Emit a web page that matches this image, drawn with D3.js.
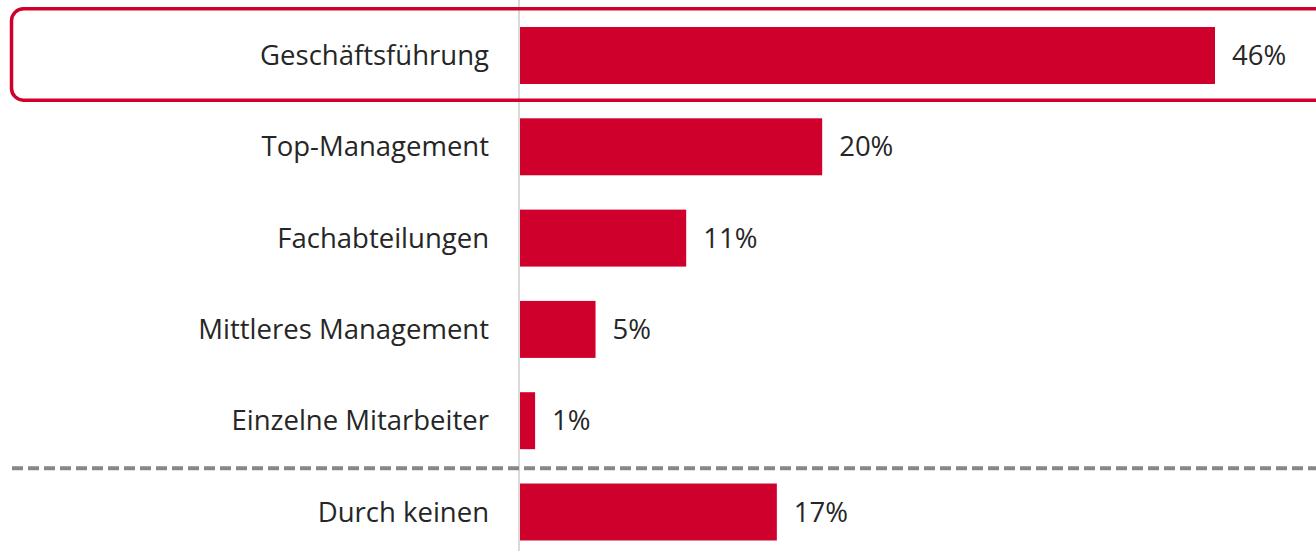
<!DOCTYPE html>
<html lang="de">
<head>
<meta charset="UTF-8">
<script src="https://d3js.org/d3.v7.min.js"></script>
<title>Geschaeftsfuehrung</title>
<style>
  body { margin: 0; background: #fff; }
  text { font-family: "Open Sans", "Lato", sans-serif; fill: #262626; }
</style>
</head>
<body>
<script>
  var w = 1316,
      h = 551;

  // Daten
  var categories = ["Geschäftsführung", "Top-Management", "Fachabteilungen", "Mittleres Management", "Einzelne Mitarbeiter", "Durch keinen"];
  var values = [46, 20, 11, 5, 1, 17];
  var valueLabels = ["46%", "20%", "11%", "5%", "1%", "17%"];

  var red = "#cf002c";

  var svg = d3.select("body").append("svg")
      .attr("width", w)
      .attr("height", h);

  var x = d3.scaleLinear().domain([0, 46]).range([520, 1215]);

  var y = d3.scaleBand()
      .domain(categories)
      .range([9.85, 557.65])
      .paddingInner(0.376)
      .paddingOuter(0.188);

  var step = y.step(),
      bw = y.bandwidth();

  // vertikale Achsenlinie
  svg.append("line")
      .attr("x1", 519).attr("x2", 519)
      .attr("y1", 0).attr("y2", h)
      .attr("stroke", "#d9d9d9")
      .attr("stroke-width", 2);

  // Balken
  svg.selectAll("rect.bar")
      .data(values)
      .enter().append("rect")
      .attr("class", "bar")
      .attr("x", x(0))
      .attr("y", function(d, i) { return y(categories[i]); })
      .attr("width", function(d) { return x(d) - x(0); })
      .attr("height", bw)
      .attr("fill", red);

  // Kategorien
  svg.selectAll("text.cat")
      .data(categories)
      .enter().append("text")
      .attr("class", "cat")
      .attr("x", 489)
      .attr("y", function(d) { return y(d) + bw / 2; })
      .attr("dy", "0.35em")
      .attr("text-anchor", "end")
      .style("font-size", "27.5px")
      .text(function(d) { return d; });

  // Werte
  svg.selectAll("text.val")
      .data(values)
      .enter().append("text")
      .attr("class", "val")
      .attr("x", function(d) { return x(d) + 17; })
      .attr("y", function(d, i) { return y(categories[i]) + bw / 2; })
      .attr("dy", "0.35em")
      .style("font-size", "27.5px")
      .text(function(d, i) { return valueLabels[i]; });

  // gestrichelte Trennlinie vor "Durch keinen"
  var sepY = (y(categories[4]) + bw + y(categories[5])) / 2 + 2;
  svg.append("line")
      .attr("x1", 12).attr("x2", w)
      .attr("y1", sepY).attr("y2", sepY)
      .attr("stroke", "#878787")
      .attr("stroke-width", 4)
      .attr("stroke-dasharray", "11,5");

  // Hervorhebung erste Zeile
  var boxTop = y(categories[0]) - (step - bw) / 2;
  svg.append("rect")
      .attr("x", 11.5)
      .attr("y", boxTop - 1)
      .attr("width", w + 20)
      .attr("height", step)
      .attr("rx", 12)
      .attr("fill", "none")
      .attr("stroke", red)
      .attr("stroke-width", 3.5);
</script>
</body>
</html>
